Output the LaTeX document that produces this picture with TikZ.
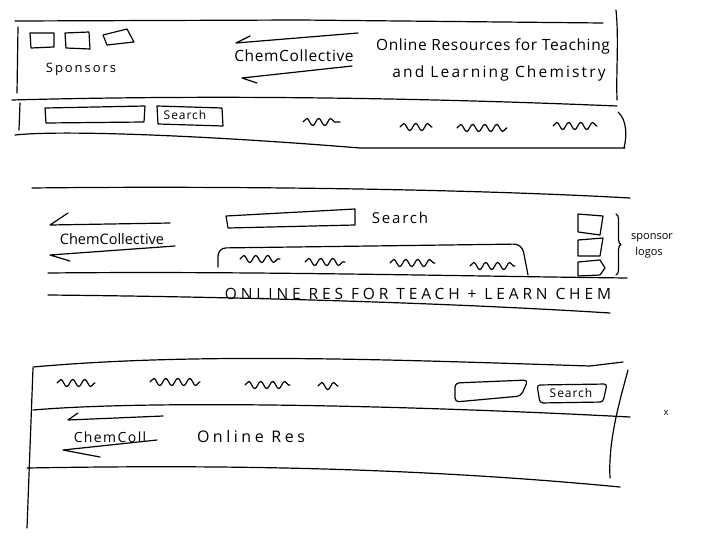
\documentclass[tikz,border=0pt]{standalone}
\usepackage{fontspec}
\setmainfont{Open Sans}
\usetikzlibrary{decorations.pathmorphing,decorations.pathreplacing}

\newcommand\wide[1]{\addfontfeature{LetterSpace=#1}}

\tikzset{
  pen/.style={line width=1.2pt, line cap=round, line join=round},
  squig/.style={pen, decorate, decoration={snake, amplitude=3.6pt, segment length=12pt}},
  hand/.style={font=\fontsize{15.5}{18}\selectfont, inner sep=0pt},
  small/.style={font=\fontsize{12}{14}\selectfont\wide{8}, inner sep=0pt},
  tiny/.style={font=\fontsize{11}{12}\selectfont, inner sep=0pt},
}

\begin{document}
\begin{tikzpicture}[x=1pt, y=-1pt]
  \useasboundingbox (0,0) rectangle (709,554);

  % sketch 1: logo row over nav row
  \draw[pen] (15,21) -- (300,20) -- (603,23);
  \draw[pen] (18,27) -- (17,93);
  \draw[pen] (616,10) .. controls (619,40) and (616,70) .. (617,100);
  \draw[pen] (12,100) .. controls (200,95) and (400,97) .. (617,106);
  \draw[pen] (20,103) -- (19,130);
  \draw[pen] (15,135) .. controls (60,130) and (200,135) .. (360,148) -- (625,148);
  \draw[pen] (618,112) .. controls (627,120) and (627,136) .. (624,148);

  \draw[pen] (30,33) -- (54,33) -- (54,47) -- (31,48) -- cycle;
  \draw[pen] (65,33) -- (89,32) -- (90,49) -- (66,48) -- cycle;
  \draw[pen] (103,35) -- (127,29) -- (134,42) -- (107,45) -- cycle;
  \node[hand, font=\fontsize{13}{15}\selectfont\wide{15}] (sponsA) at (81,69) {Sponsors};

  \draw[pen] (250,36) -- (236,43) -- (358,33);
  \node[hand, font=\fontsize{15.5}{18}\selectfont\wide{4}] (chemA) at (294,56) {ChemCollective};
  \draw[pen] (352,66) -- (242,78) -- (257,83);
  \node[hand, font=\fontsize{15.5}{18}\selectfont\wide{4}] (tagA) at (493,46) {Online Resources for Teaching};
  \node[hand, font=\fontsize{15.5}{18}\selectfont\wide{14}] (tagB) at (499,73) {and Learning Chemistry};

  \draw[pen] (45,108) -- (145,106) -- (144,122) -- (46,123) -- cycle;
  \draw[pen] (157,106) -- (222,108) -- (223,126) -- (158,124) -- cycle;
  \node[small] (goA) at (185,115) {Search};
  \draw[squig] (303,122) -- (340,122);
  \draw[squig] (400,127) -- (432,127);
  \draw[squig] (457,128) -- (507,128);
  \draw[squig] (553,126) -- (597,126);

  % sketch 2: logo left, search top, sponsors right
  \draw[pen] (32,188) .. controls (200,186) and (450,188) .. (630,198);
  \draw[pen] (68,213) -- (50,225) -- (170,223);
  \node[hand, font=\fontsize{14.5}{17}\selectfont] (chemB) at (112,239) {ChemCollective};
  \draw[pen] (175,246) -- (50,255) -- (70,261);

  \draw[pen] (226,216) -- (355,209) -- (355,225) -- (228,228) -- cycle;
  \node[hand, font=\fontsize{15}{17}\selectfont\wide{12}] (goB) at (400,218) {Search};
  \draw[pen, rounded corners=8pt] (218,267) -- (218,248) -- (522,244) -- (528,275);
  \draw[squig] (240,259) -- (280,259);
  \draw[squig] (305,262) -- (345,262);
  \draw[squig] (390,263) -- (435,263);
  \draw[squig] (470,266) -- (515,266);

  \draw[pen] (48,273) .. controls (250,271) and (450,276) .. (627,278);
  \node[hand, font=\fontsize{15.5}{17}\selectfont\wide{25}] (tagC) at (418,294) {ONLINE RES FOR TEACH + LEARN CHEM};
  \draw[pen] (48,295) .. controls (250,297) and (450,303) .. (610,313);

  \draw[pen] (578,214) -- (603,216) -- (600,235) -- (578,232) -- cycle;
  \draw[pen] (578,240) -- (603,238) -- (600,256) -- (578,256) -- cycle;
  \draw[pen] (578,262) -- (600,260) -- (605,268) -- (600,275) -- (578,276) -- cycle;
  \draw[pen, decorate, decoration={brace, amplitude=5pt}] (616,214) -- (616,275);
  \node[tiny] (logoA) at (652,238) {sponsor};
  \node[tiny] (logoB) at (649,253) {logos};

  % sketch 3: nav on top, logo row below
  \draw[pen] (33,367) .. controls (200,352) and (400,360) .. (590,366) -- (623,362);
  \draw[pen] (33,368) -- (27,528);
  \draw[pen] (628,370) .. controls (620,400) and (608,440) .. (610,478);
  \draw[pen] (33,410) .. controls (150,400) and (400,405) .. (630,417);
  \draw[pen] (27,468) .. controls (200,465) and (400,466) .. (620,487);

  \draw[squig] (57,383) -- (95,383);
  \draw[squig] (150,382) -- (200,382);
  \draw[squig] (245,385) -- (290,385);
  \draw[squig] (318,386) -- (338,386);
  \draw[pen, rounded corners=4pt] (455,383) -- (528,380) -- (521,396) -- (455,402) -- cycle;
  \draw[pen, rounded corners=3pt] (537,385) -- (607,384) -- (603,402) -- (540,403) -- cycle;
  \node[small] (goC) at (571,393) {Search};

  \draw[pen] (78,413) -- (68,420) -- (163,416);
  \node[hand, font=\fontsize{14}{16}\selectfont\wide{10}] (chemC) at (110,437) {ChemColl};
  \draw[pen] (157,440) -- (63,450) -- (100,457);
  \node[hand, font=\fontsize{16}{18}\selectfont\wide{22}] (tagD) at (251,436) {Online Res};

  \node[tiny, font=\fontsize{9.5}{10}\selectfont] (mark) at (666,413) {x};
\end{tikzpicture}
\end{document}
